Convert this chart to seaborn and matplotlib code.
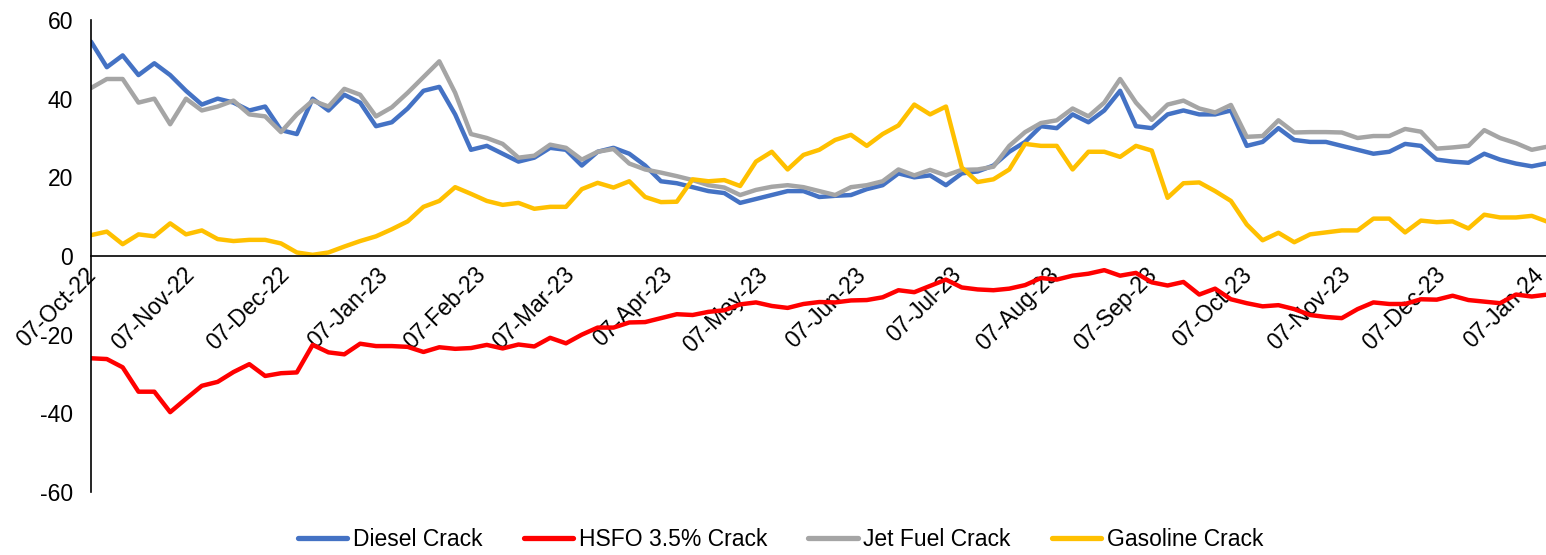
import pandas as pd
import matplotlib
matplotlib.use("Agg")
import matplotlib.pyplot as plt
import matplotlib.dates as mdates
import matplotlib.transforms as mtransforms
import seaborn as sns

# crack spreads, one reading every 5 days from 07-Oct-22
dates = pd.date_range("2022-10-07", periods=93, freq="5D")

diesel = [54.5, 48, 51, 46, 49, 46, 42, 38.5, 40, 39, 37, 38, 32, 31, 40, 37, 41, 39, 33, 34,
          37.5, 42, 43, 36, 27, 28, 26, 24, 25, 27.5, 27, 23, 26.5, 27.5, 26, 23, 19, 18.5, 17.5, 16.5,
          16, 13.5, 14.5, 15.5, 16.5, 16.5, 15, 15.3, 15.5, 17, 18, 21, 20, 20.5, 18, 21, 21.5, 23, 26.5, 29,
          33, 32.5, 36, 34, 37, 42, 33, 32.5, 36, 37, 36, 36, 37, 28, 29, 32.5, 29.5, 29, 29, 28,
          27, 26, 26.5, 28.5, 28, 24.5, 24, 23.7, 26, 24.5, 23.5, 22.8, 23.6]

hsfo = [-26, -26.2, -28.3, -34.5, -34.5, -39.7, -36.3, -33, -32, -29.5, -27.5, -30.5, -29.8, -29.6, -22.6,
        -24.5, -25, -22.3, -22.9, -22.9, -23.1, -24.4, -23.2, -23.6, -23.4, -22.6, -23.5, -22.5, -23, -20.8,
        -22.2, -20, -18.2, -18.2, -16.9, -16.8, -15.8, -14.8, -15, -14.2, -13.8, -12.3, -11.8, -12.7, -13.2,
        -12.2, -11.7, -11.8, -11.3, -11.2, -10.5, -8.7, -9.2, -7.6, -6, -8, -8.5, -8.7, -8.3, -7.4,
        -5.6, -6, -5, -4.5, -3.6, -5, -4.3, -6.7, -7.5, -6.6, -9.8, -8.3, -11, -12, -12.8,
        -12.5, -13.5, -15, -15.5, -15.8, -13.5, -11.8, -12.2, -12.2, -11, -11.1, -10.1, -11.2, -11.6, -12,
        -9.8, -10.3, -9.8]

jet = [42.7, 45, 45, 39, 40, 33.5, 40, 37, 38, 39.5, 36, 35.5, 31.5, 36, 39.5, 38, 42.5, 41, 35.5, 37.8,
       41.5, 45.5, 49.5, 41.5, 31, 30, 28.5, 25, 25.5, 28.3, 27.5, 24.5, 26.5, 27.2, 23.5, 22, 21.2, 20.3, 19.3, 18,
       17.4, 15.5, 16.8, 17.6, 18, 17.5, 16.5, 15.5, 17.5, 18, 19, 22, 20.5, 21.9, 20.5, 21.9, 22, 22.7, 28, 31.5,
       33.8, 34.5, 37.5, 35.5, 39, 45, 39, 34.6, 38.5, 39.5, 37.5, 36.5, 38.4, 30.3, 30.5, 34.5, 31.4, 31.5, 31.5, 31.4,
       30, 30.5, 30.5, 32.3, 31.6, 27.3, 27.6, 28, 32, 30, 28.7, 27, 27.8]

gasoline = [5.3, 6.2, 3, 5.5, 5, 8.3, 5.5, 6.5, 4.3, 3.8, 4.1, 4.1, 3.2, 0.9, 0.3, 0.9, 2.4, 3.8, 5, 6.8,
            8.8, 12.5, 14, 17.5, 15.8, 14, 13, 13.5, 12, 12.5, 12.5, 17, 18.6, 17.4, 19, 15, 13.7, 13.8, 19.5, 19,
            19.3, 17.8, 24, 26.5, 22, 25.7, 27, 29.5, 30.8, 28, 31, 33.2, 38.5, 36, 38, 22.5, 18.8, 19.5, 22, 28.5,
            28, 28, 22, 26.5, 26.5, 25.2, 28, 26.8, 14.8, 18.5, 18.7, 16.5, 14, 8, 4, 5.9, 3.5, 5.5, 6, 6.5,
            6.5, 9.5, 9.5, 6, 9, 8.6, 8.8, 7, 10.5, 9.8, 9.8, 10.2, 8.7]

names = ["Diesel Crack", "HSFO 3.5% Crack", "Jet Fuel Crack", "Gasoline Crack"]
colors = ["#4472C4", "#FF0000", "#A5A5A5", "#FFC000"]

df = pd.concat([
    pd.DataFrame({"date": dates, "value": diesel, "series": names[0]}),
    pd.DataFrame({"date": dates, "value": hsfo, "series": names[1]}),
    pd.DataFrame({"date": dates, "value": jet, "series": names[2]}),
    pd.DataFrame({"date": dates, "value": gasoline, "series": names[3]}),
])

sns.set_style("white")
plt.rcParams["font.family"] = ["Liberation Sans", "DejaVu Sans"]
plt.rcParams["axes.unicode_minus"] = False
plt.rcParams["text.color"] = "black"

fig = plt.figure(figsize=(15.46, 5.55), dpi=100)
ax = fig.add_axes([91 / 1546, 63 / 555, 1 - 91 / 1546, 472 / 555])

sns.lineplot(data=df, x="date", y="value", hue="series", hue_order=names,
             palette=colors, linewidth=3.2, ax=ax)

ax.set_ylim(-60, 60)
ax.set_yticks([-60, -40, -20, 0, 20, 40, 60])
ax.set_xlim(pd.Timestamp("2022-10-07"), pd.Timestamp("2022-10-07") + pd.Timedelta(days=459.5))
ax.xaxis.set_major_locator(mdates.MonthLocator(bymonthday=7))
ax.xaxis.set_major_formatter(mdates.DateFormatter("%d-%b-%y"))
ax.set_xlabel("")
ax.set_ylabel("")

# x axis sits on the zero line
ax.spines["bottom"].set_position(("data", 0))
ax.spines["top"].set_visible(False)
ax.spines["right"].set_visible(False)
for s in ["bottom", "left"]:
    ax.spines[s].set_color("black")
    ax.spines[s].set_linewidth(1.2)

ax.tick_params(axis="y", length=0, pad=13, labelsize=16.5, colors="black")
ax.tick_params(axis="x", length=0, pad=3, labelsize=16.5, colors="black")
shift = mtransforms.ScaledTranslation(10 / 100, -3 / 100, fig.dpi_scale_trans)
for lbl in ax.get_xticklabels():
    lbl.set_rotation(45)
    lbl.set_ha("right")
    lbl.set_va("top")
    lbl.set_transform(lbl.get_transform() + shift)

sns.move_legend(ax, "lower center", bbox_to_anchor=(0.505, -0.03), bbox_transform=fig.transFigure,
                ncol=4, frameon=False, title=None, fontsize=16.5, handlelength=2.15,
                handletextpad=0.25, columnspacing=1.8)
leg = ax.get_legend()
for h in leg.legend_handles:
    h.set_linewidth(3.8)
for t in leg.get_texts():
    t.set_color("black")

fig.savefig("out.png", dpi=100)
